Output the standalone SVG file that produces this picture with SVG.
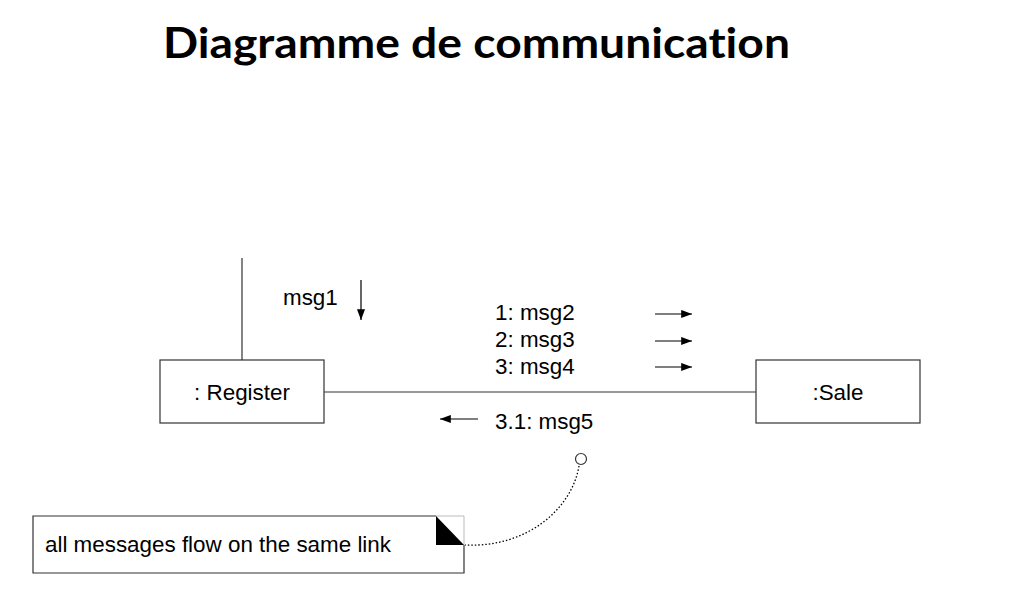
<svg xmlns="http://www.w3.org/2000/svg" width="1031" height="596" viewBox="0 0 1031 596">
<defs>
<style>
.lbl{font-family:"Liberation Sans",Arial,sans-serif;font-size:22.4px;fill:#000}
.ttl{font-family:Lato,"Open Sans",sans-serif;font-weight:bold;font-size:42px;font-variant-ligatures:none;font-feature-settings:"liga" 0,"clig" 0}
.box{fill:#fff;stroke:#333;stroke-width:1.2}
.ln{stroke:#333;stroke-width:1.2;fill:none}
.arr{stroke:#000;stroke-width:1.2;fill:none;marker-end:url(#ah)}
</style>
<marker id="ah" viewBox="0 0 12 10" refX="12" refY="5" markerWidth="12" markerHeight="9" markerUnits="userSpaceOnUse" orient="auto">
<path d="M0,0.5 L12,5 L0,9.5 Z" fill="#000"/>
</marker>
</defs>
<rect width="1031" height="596" fill="#fff"/>
<text class="ttl" x="163" y="58" textLength="627" lengthAdjust="spacingAndGlyphs">Diagramme de communication</text>
<g id="connectors">
<line class="ln" x1="242" y1="258" x2="242" y2="360"/>
<line class="ln" x1="324" y1="392" x2="756" y2="392"/>
<path d="M579,466 C572,508 528,548 465,545" fill="none" stroke="#000" stroke-width="1.3" stroke-dasharray="1.5,2"/>
<circle cx="581" cy="459" r="5.5" fill="#fff" stroke="#333" stroke-width="1.2"/>
<line class="arr" x1="361" y1="280" x2="361" y2="320"/>
<line class="arr" x1="655" y1="314" x2="692" y2="314"/>
<line class="arr" x1="655" y1="341" x2="692" y2="341"/>
<line class="arr" x1="655" y1="367" x2="692" y2="367"/>
<line class="arr" x1="478" y1="419" x2="440" y2="419"/>
</g>
<g id="msgs">
<text class="lbl" x="283" y="305">msg1</text>
<text class="lbl" x="495" y="320">1: msg2</text>
<text class="lbl" x="495" y="347">2: msg3</text>
<text class="lbl" x="495" y="374">3: msg4</text>
<text class="lbl" x="495" y="429">3.1: msg5</text>
</g>
<g id="register">
<rect class="box" x="160" y="360" width="164" height="63"/>
<text class="lbl" x="242" y="400" text-anchor="middle">: Register</text>
</g>
<g id="sale">
<rect class="box" x="756" y="360" width="164" height="63"/>
<text class="lbl" x="838" y="400" text-anchor="middle">:Sale</text>
</g>
<g id="note">
<rect x="33" y="516" width="431" height="57" fill="#fff" stroke="none"/>
<path d="M436,516 L33,516 L33,573 L464,573 L464,545" fill="none" stroke="#333" stroke-width="1.2"/>
<path d="M436,516 L464,516 L464,545" fill="none" stroke="#bbb" stroke-width="1"/>
<path d="M436,516 L464,545 L436,545 Z" fill="#000"/>
<text class="lbl" x="45" y="552" font-size="21.4">all messages flow on the same link</text>
</g>
</svg>
